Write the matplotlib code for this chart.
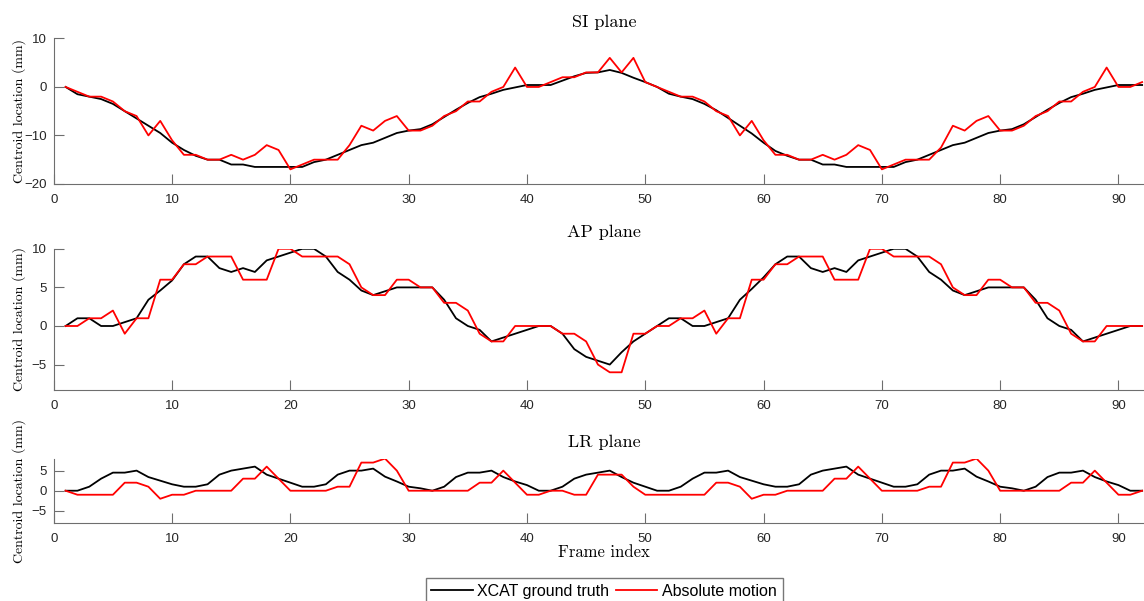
import matplotlib
matplotlib.use('Agg')
import matplotlib.pyplot as plt

# frame index 1..92
frames = list(range(1, 93))

# SI plane (mm)
si_truth = [0, -1.5, -2, -2.5, -3.5, -5, -6.5, -8, -9.5, -11.5,
            -13, -14.2, -15, -15, -16, -16, -16.5, -16.5, -16.5, -16.5,
            -16.5, -15.5, -15, -14, -13, -12, -11.5, -10.5, -9.5, -9,
            -8.7, -7.7, -6.2, -4.7, -3.3, -2.1, -1.4, -0.6, -0.1, 0.4,
            0.4, 0.4, 1.3, 2.2, 2.9, 3, 3.5, 2.9, 1.9, 1,
            0, -1.4, -2, -2.5, -3.5, -4.8, -6.4, -8, -9.6, -11.5,
            -13.2, -14.2, -15, -15, -16, -16, -16.5, -16.5, -16.5, -16.5,
            -16.5, -15.5, -15, -14, -13, -12, -11.5, -10.5, -9.5, -9,
            -8.7, -7.7, -6.2, -4.7, -3.3, -2.1, -1.4, -0.6, -0.1, 0.4,
            0.4, 0.4]
si_abs = [0, -1, -2, -2, -3, -5, -6, -10, -7, -11,
          -14, -14, -15, -15, -14, -15, -14, -12, -13, -17,
          -16, -15, -15, -15, -12, -8, -9, -7, -6, -9,
          -9, -8, -6, -5, -3, -3, -1, 0, 4, 0,
          0, 1, 2, 2, 3, 3, 6, 3, 6, 1,
          0, -1, -2, -2, -3, -5, -6, -10, -7, -11,
          -14, -14, -15, -15, -14, -15, -14, -12, -13, -17,
          -16, -15, -15, -15, -12.5, -8, -9, -7, -6, -9,
          -9, -8, -6, -5, -3, -3, -1, 0, 4, 0,
          0, 1]

# AP plane (mm)
ap_truth = [0, 1, 1, 0, 0, 0.5, 1, 3.4, 4.6, 5.9,
            8, 9, 9, 7.5, 7, 7.5, 7, 8.5, 9, 9.5,
            10, 10, 9, 7, 6, 4.6, 4, 4.5, 5, 5,
            5, 5, 3.4, 1, 0, -0.5, -2, -1.5, -1, -0.5,
            0, 0, -1, -3, -4, -4.5, -5, -3.4, -2, -1,
            0, 1, 1, 0, 0, 0.5, 1, 3.4, 4.8, 6.3,
            8, 9, 9, 7.5, 7, 7.5, 7, 8.5, 9, 9.5,
            10, 10, 9, 7, 6, 4.6, 4, 4.5, 5, 5,
            5, 5, 3.4, 1, 0, -0.5, -2, -1.5, -1, -0.5,
            0, 0]
ap_abs = [0, 0, 1, 1, 2, -1, 1, 1, 6, 6,
          8, 8, 9, 9, 9, 6, 6, 6, 10, 10,
          9, 9, 9, 9, 8, 5, 4, 4, 6, 6,
          5, 5, 3, 3, 2, -1, -2, -2, 0, 0,
          0, 0, -1, -1, -2, -5, -6, -6, -1, -1,
          0, 0, 1, 1, 2, -1, 1, 1, 6, 6,
          8, 8, 9, 9, 9, 6, 6, 6, 10, 10,
          9, 9, 9, 9, 8, 5, 4, 4, 6, 6,
          5, 5, 3, 3, 2, -1, -2, -2, 0, 0,
          0, 0]

# LR plane (mm)
lr_truth = [0, 0, 1, 3, 4.5, 4.5, 5, 3.4, 2.5, 1.6,
            1, 1, 1.6, 4, 5, 5.5, 6, 4, 3, 2,
            1, 1, 1.6, 4, 5, 5, 5.5, 3.5, 2.3, 1,
            0.6, 0, 1, 3.4, 4.5, 4.5, 5, 3.4, 2.3, 1.4,
            0, 0, 1, 3, 4, 4.5, 5, 3.4, 2, 1,
            0, 0, 1, 3, 4.5, 4.5, 5, 3.4, 2.5, 1.6,
            1, 1, 1.6, 4, 5, 5.5, 6, 4, 3, 2,
            1, 1, 1.6, 4, 5, 5, 5.5, 3.5, 2.3, 1,
            0.6, 0, 1, 3.4, 4.5, 4.5, 5, 3.4, 2.3, 1.4,
            0, 0]
lr_abs = [0, -1, -1, -1, -1, 2, 2, 1, -2, -1,
          -1, 0, 0, 0, 0, 3, 3, 6, 3, 0,
          0, 0, 0, 1, 1, 7, 7, 8, 5, 0,
          0, 0, 0, 0, 0, 2, 2, 5, 2, -1,
          -1, 0, 0, -1, -1, 4, 4, 4, 1, -1,
          -1, -1, -1, -1, -1, 2, 2, 1, -2, -1,
          -1, 0, 0, 0, 0, 3, 3, 6, 3, 0,
          0, 0, 0, 1, 1, 7, 7, 8, 5, 0,
          0, 0, 0, 0, 0, 2, 2, 5, 2, -1,
          -1, 0]

titles = ['SI plane', 'AP plane', 'LR plane']
ylims = [(-20, 10), (-8.3, 10), (-8, 8)]
yticks = [[-20, -10, 0, 10], [-5, 0, 5, 10], [-5, 0, 5]]
xticks = [0, 10, 20, 30, 40, 50, 60, 70, 80, 90]

serif = 'cmr10'
sans = 'Liberation Sans'
axcol = '#6e6e6e'

fig = plt.figure(figsize=(11.44, 6.01), dpi=100)
# axes run a little past the right edge of the figure (x limit 93)
boxes = [[0.047, 0.694, 0.9617, 0.242],
         [0.047, 0.351, 0.9617, 0.235],
         [0.047, 0.130, 0.9617, 0.107]]

data = [(si_truth, si_abs), (ap_truth, ap_abs), (lr_truth, lr_abs)]
lines = []
for i in range(3):
    ax = fig.add_axes(boxes[i])
    truth, absm = data[i]
    l1, = ax.plot(frames, truth, color='black', lw=1.3, label='XCAT ground truth')
    l2, = ax.plot(frames, absm, color='red', lw=1.3, label='Absolute motion')
    lines = [l1, l2]
    ax.set_xlim(0, 93)
    ax.set_ylim(*ylims[i])
    ax.set_xticks(xticks)
    ax.set_yticks(yticks[i])
    for s in ['top', 'right']:
        ax.spines[s].set_visible(False)
    for s in ['left', 'bottom']:
        ax.spines[s].set_color(axcol)
        ax.spines[s].set_linewidth(0.8)
    ax.tick_params(direction='in', length=7, width=0.8, color=axcol,
                   labelsize=9.5, labelcolor='#262626')
    ax.tick_params(axis='x', pad=7)
    ax.tick_params(axis='y', pad=5)
    for lab in ax.get_xticklabels() + ax.get_yticklabels():
        lab.set_family(sans)
    ax.set_title(titles[i], family=serif, fontsize=13, pad=8.5)
    ax.set_ylabel('Centroid location (mm)', family=serif, fontsize=10)
    ax.yaxis.set_label_coords(-0.0255, 0.5)

ax.set_xlabel('Frame index', family=serif, fontsize=12, labelpad=0)

fig.legend(lines, [l.get_label() for l in lines], loc='lower center',
           bbox_to_anchor=(0.528, -0.014), ncol=2, frameon=True, fancybox=False,
           edgecolor='#555555', prop={'family': sans, 'size': 11.5},
           handlelength=2.6, handletextpad=0.3, columnspacing=0.4,
           borderpad=0.35, borderaxespad=0.3)

fig.savefig('out.png', dpi=100)
